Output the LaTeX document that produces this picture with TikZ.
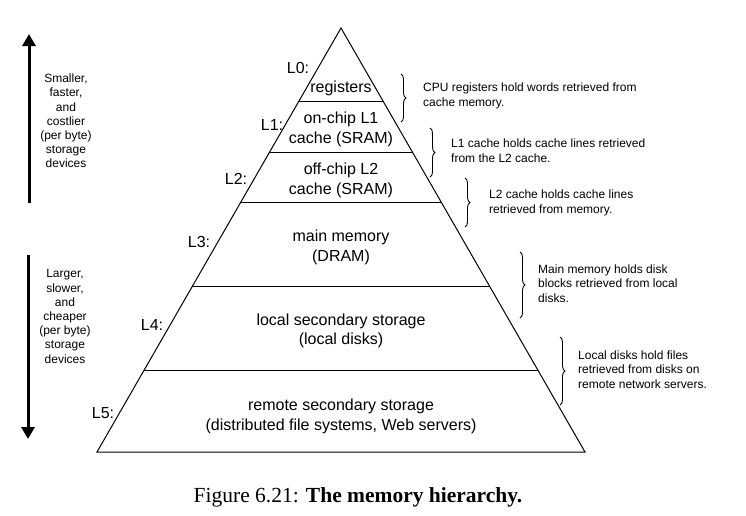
\documentclass[tikz,border=0pt]{standalone}
\usepackage{fontspec}
\setmainfont{Liberation Sans}
\newfontfamily\capfont{Liberation Serif}
\usetikzlibrary{calc,arrows.meta,decorations.pathreplacing}
\tikzset{
  lvl/.style={font=\fontsize{16}{19.5}\selectfont, align=center, inner sep=0pt},
  lab/.style={font=\fontsize{16}{19}\selectfont, inner sep=0pt},
  note/.style={font=\fontsize{12}{14.5}\selectfont, align=left, anchor=west, inner sep=0pt},
  side/.style={font=\fontsize{12}{14.2}\selectfont, align=center, inner sep=0pt},
  pyr/.style={line width=1pt, line join=miter},
  bigarrow/.style={line width=3pt, -{Triangle[width=13pt,length=12pt]}},
  bracedeco/.style={line width=0.9pt, decorate, decoration={brace, amplitude=5pt}}
}
\begin{document}
\begin{tikzpicture}[x=1pt, y=-1pt]
\useasboundingbox (0,0) rectangle (746,515);
% pyramid
\coordinate (apex) at (341,28);
\coordinate (bl) at (97,452);
\coordinate (br) at (585,452);
\draw[pyr] (apex) -- (bl) -- (br) -- cycle;
\foreach \f in {0.1745,0.2925,0.4127,0.6108,0.8066}
  \draw[pyr] ($(apex)!\f!(bl)$) -- ($(apex)!\f!(br)$);
% level texts
\node[lvl] (t0) at (341,88) {registers};
\node[lvl] (t1) at (341,129.5) {on-chip L1\\cache (SRAM)};
\node[lvl] (t2) at (341,180.5) {off-chip L2\\cache (SRAM)};
\node[lvl] (t3) at (341,247.5) {main memory\\(DRAM)};
\node[lvl] (t4) at (341,331) {local secondary storage\\(local disks)};
\node[lvl] (t5) at (341,416.5) {remote secondary storage\\(distributed file systems, Web servers)};
% level labels
\node[lab] (l0) at (298,68) {L0:};
\node[lab] (l1) at (272,125) {L1:};
\node[lab] (l2) at (236,179) {L2:};
\node[lab] (l3) at (199,242) {L3:};
\node[lab] (l4) at (152,325) {L4:};
\node[lab] (l5) at (103,413) {L5:};
% braces
\coordinate (b1t) at (401,74);  \coordinate (b1b) at (401,122);
\coordinate (b2t) at (430,128); \coordinate (b2b) at (430,177);
\coordinate (b3t) at (465,178); \coordinate (b3b) at (465,227);
\coordinate (b4t) at (520,252); \coordinate (b4b) at (520,318);
\coordinate (b5t) at (560,337); \coordinate (b5b) at (560,405);
\draw[bracedeco] (b1t) -- (b1b);
\draw[bracedeco] (b2t) -- (b2b);
\draw[bracedeco] (b3t) -- (b3b);
\draw[bracedeco] (b4t) -- (b4b);
\draw[bracedeco] (b5t) -- (b5b);
% notes
\node[note] (n1) at (423,96) {CPU registers hold words retrieved from\\cache memory.};
\node[note] (n2) at (451,150.5) {L1 cache holds cache lines retrieved\\from the L2 cache.};
\node[note] (n3) at (489,203) {L2 cache holds cache lines\\retrieved from memory.};
\node[note] (n4) at (538,283.5) {Main memory holds disk\\blocks retrieved from local\\disks.};
\node[note] (n5) at (578,369.5) {Local disks hold files\\retrieved from disks on\\remote network servers.};
% side arrows
\coordinate (u0) at (29,203); \coordinate (u1) at (29,34);
\coordinate (d0) at (28,255); \coordinate (d1) at (28,439);
\draw[bigarrow] (u0) -- (u1);
\draw[bigarrow] (d0) -- (d1);
\node[side] (s1) at (66,121) {Smaller,\\faster,\\and\\costlier\\(per byte)\\storage\\devices};
\node[side] (s2) at (65,316.5) {Larger,\\slower,\\and\\cheaper\\(per byte)\\storage\\devices};
% caption
\node[font=\capfont\fontsize{21.5}{24}\selectfont, inner sep=0pt, anchor=base] (cap) at (358,502) {Figure 6.21: \textbf{The memory hierarchy.}};
\end{tikzpicture}
\end{document}
